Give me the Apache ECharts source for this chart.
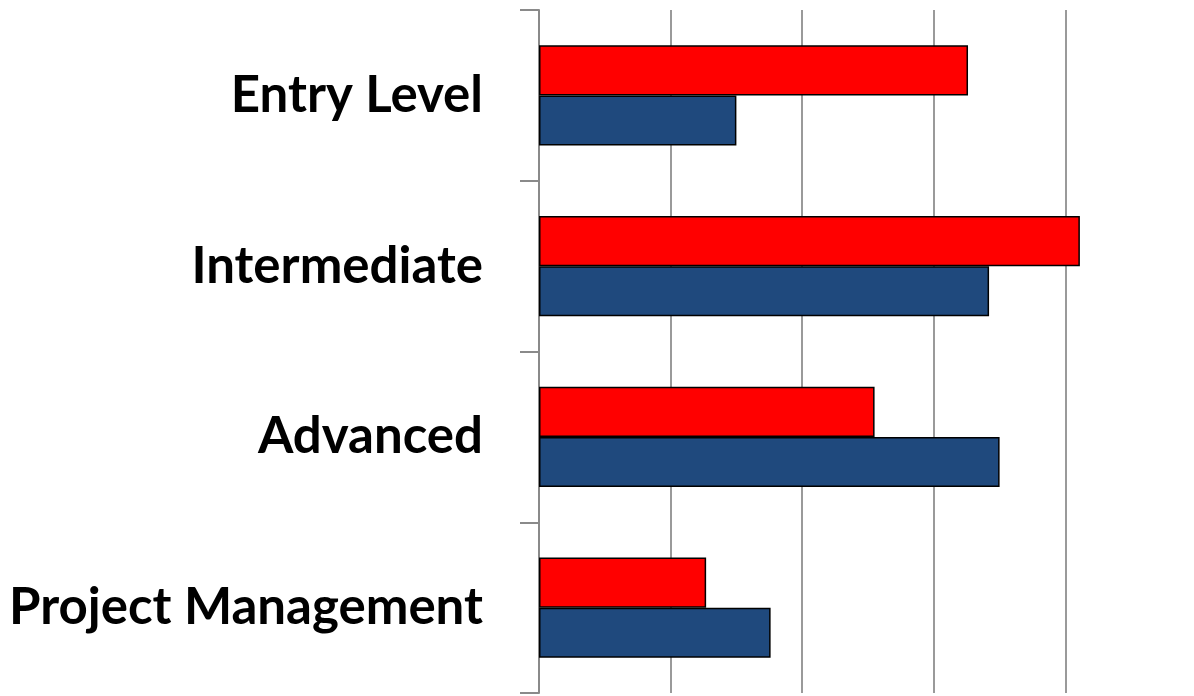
<!DOCTYPE html>
<html>
<head>
<meta charset="utf-8">
<script src="https://cdn.jsdelivr.net/npm/echarts@6/dist/echarts.min.js"></script>
<style>html,body{margin:0;padding:0;background:#fff;overflow:hidden;width:1194px;height:696px;}#c{width:1200px;height:696px;}</style>
</head>
<body>
<div id="c"></div>
<script>
var categories = ['Entry Level', 'Intermediate', 'Advanced', 'Project Management'];
var redValues = [32.6, 41.1, 25.5, 12.7];
var blueValues = [15.0, 34.2, 35.0, 17.6];
var xTicks = [0, 10, 20, 30, 40, 50];

var chart = echarts.init(document.getElementById('c'));
chart.setOption({
  animation: false,
  backgroundColor: '#ffffff',
  grid: { left: 539, width: 658, top: 10, height: 683, containLabel: false },
  xAxis: {
    type: 'value', min: xTicks[0], max: xTicks[xTicks.length - 1], interval: 10,
    axisLabel: { show: false }, axisLine: { show: false }, axisTick: { show: false },
    splitLine: { show: true, lineStyle: { color: '#9a9a9a', width: 2 } }
  },
  yAxis: {
    type: 'category', data: categories, inverse: true,
    axisLine: { show: true, lineStyle: { color: '#8a8a8a', width: 2 } },
    axisTick: { show: true, length: 19, lineStyle: { color: '#8a8a8a', width: 2 } },
    axisLabel: { margin: 56, color: '#000', fontFamily: 'Lato', fontWeight: 'bold', fontSize: 51 }
  },
  series: [
    { name: 'Red', type: 'bar', data: redValues, barGap: '0%', barCategoryGap: '41.4%',
      itemStyle: { color: '#ff0000', borderColor: '#000', borderWidth: 1.5 } },
    { name: 'Blue', type: 'bar', data: blueValues, barGap: '0%', barCategoryGap: '41.4%',
      itemStyle: { color: '#1f497d', borderColor: '#000', borderWidth: 1.5 } }
  ]
});
</script>
</body>
</html>
